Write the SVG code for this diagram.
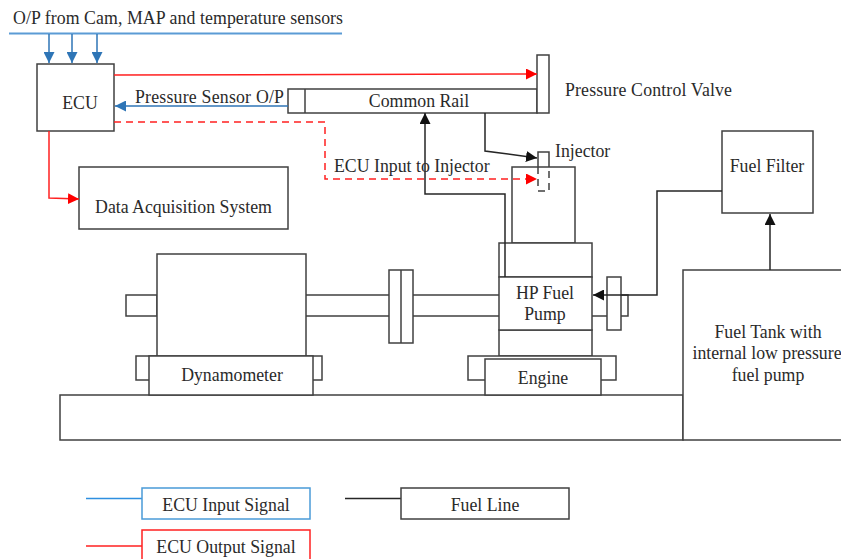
<svg xmlns="http://www.w3.org/2000/svg" width="841" height="559" viewBox="0 0 841 559">
<style>
text{font-family:"Liberation Serif","Times New Roman",serif;font-size:17.800px;fill:#2a2a2a}
.m{text-anchor:middle}
.b{fill:#fff;stroke:#404040;stroke-width:1.500}
.n{fill:none;stroke:#404040;stroke-width:1.500}
.fuel{fill:none;stroke:#262626;stroke-width:1.500}
.blue{fill:none;stroke:#2e75b6;stroke-width:1.500}
.red{fill:none;stroke:#ff2020;stroke-width:1.500}
.dash{stroke-dasharray:7 5}
</style>
<defs>
<marker id="ab" markerUnits="userSpaceOnUse" markerWidth="12" markerHeight="11" refX="11" refY="5.500" orient="auto"><path d="M0 0L11 5.500L0 11z" fill="#2e75b6"/></marker>
<marker id="ar" markerUnits="userSpaceOnUse" markerWidth="12" markerHeight="11" refX="11" refY="5.500" orient="auto"><path d="M0 0L11 5.500L0 11z" fill="#ff0000"/></marker>
<marker id="ak" markerUnits="userSpaceOnUse" markerWidth="12" markerHeight="11" refX="11" refY="5.500" orient="auto"><path d="M0 0L11 5.500L0 11z" fill="#111"/></marker>
</defs>
<g id="bed"><rect class="b" x="60" y="395" width="623" height="45"/></g>
<g id="dyno">
<rect class="b" x="126" y="295" width="31" height="21"/>
<rect class="b" x="136" y="356" width="186" height="24"/>
<rect class="b" x="157" y="254" width="149" height="102"/>
<rect class="b" x="149" y="356" width="164" height="39"/>
<text class="m" x="232" y="381">Dynamometer</text>
</g>
<g id="shaft">
<path class="n" d="M306 295H389M306 316H389M413 295H499M413 316H499"/>
<rect class="b" x="389" y="270" width="24" height="73"/>
<path class="n" d="M401 270V343"/>
</g>
<g id="engine">
<rect class="b" x="512" y="167" width="63" height="76"/>
<rect class="b" x="499" y="243" width="93" height="34"/>
<rect class="b" x="499" y="330" width="93" height="26"/>
<rect class="b" x="468" y="356" width="148" height="24"/>
<rect class="b" x="485" y="359" width="116" height="36"/>
<text class="m" x="543" y="384">Engine</text>
</g>
<g id="hp-pump">
<path class="n" d="M592 316H607M621 295H628V316H621"/>
<rect class="b" x="499" y="277" width="93" height="53"/>
<text class="m" x="545" y="299">HP Fuel</text>
<text class="m" x="545" y="320">Pump</text>
<rect class="b" x="607" y="277" width="14" height="53"/>
</g>
<g id="tank">
<rect class="b" x="683" y="270" width="159" height="170"/>
<text class="m" x="768" y="338">Fuel Tank with</text>
<text class="m" x="767" y="359">internal low pressure</text>
<text class="m" x="768" y="381">fuel pump</text>
</g>
<g id="filter">
<rect class="b" x="722" y="131" width="91" height="82"/>
<text class="m" x="767" y="172">Fuel Filter</text>
</g>
<g id="ecu">
<rect class="b" x="37" y="64" width="77" height="67"/>
<text class="m" x="80" y="109">ECU</text>
</g>
<g id="daq">
<rect class="b" x="79" y="167" width="209" height="62"/>
<text class="m" x="183.500" y="213">Data Acquisition System</text>
</g>
<g id="rail">
<rect class="b" x="288" y="89" width="249" height="24"/>
<path class="n" d="M305 89V113"/>
<text class="m" x="419" y="107">Common Rail</text>
</g>
<g id="valve">
<rect class="b" x="537" y="55" width="12" height="58"/>
<text x="565" y="96" textLength="167">Pressure Control Valve</text>
</g>
<g id="injector">
<path class="n" d="M538 167V152H549V167"/>
<path class="n" d="M538 167V191H549V167" stroke-dasharray="7 5"/>
<text x="555" y="157">Injector</text>
</g>
<g id="connectors">
<path class="blue" style="stroke:#5b9bd5;stroke-width:2" d="M9 33.500H342"/>
<path class="blue" marker-end="url(#ab)" d="M49 34V63"/>
<path class="blue" marker-end="url(#ab)" d="M72 34V63"/>
<path class="blue" marker-end="url(#ab)" d="M97 34V63"/>
<path class="blue" marker-end="url(#ab)" d="M288 106H115"/>
<path class="red" marker-end="url(#ar)" d="M114 75L537 74"/>
<path class="red" marker-end="url(#ar)" d="M49 131V198L79 199"/>
<path class="red dash" marker-end="url(#ar)" d="M114 122H325V179H537"/>
<path class="fuel" marker-end="url(#ak)" d="M485 113V151L537 158"/>
<path class="fuel" marker-end="url(#ak)" d="M505 277V194H425V113"/>
<path class="fuel" marker-end="url(#ak)" d="M722 191H657V295H593"/>
<path class="fuel" marker-end="url(#ak)" d="M770 270V214"/>
</g>
<g id="labels">
<text x="13" y="24" textLength="330">O/P from Cam, MAP and temperature sensors</text>
<text x="135" y="103" textLength="149">Pressure Sensor O/P</text>
<text x="334" y="172">ECU Input to Injector</text>
</g>
<g id="legend">
<path class="blue" style="stroke:#2e8fe0" d="M86 498.500H142"/>
<rect x="142" y="488" width="168" height="31" fill="#fff" stroke="#4a9bd8" stroke-width="1.500"/>
<text class="m" x="226" y="511">ECU Input Signal</text>
<path class="red" d="M86 546H142"/>
<rect x="142" y="530" width="168" height="40" fill="#fff" stroke="#ff2020" stroke-width="1.500"/>
<text class="m" x="226" y="553">ECU Output Signal</text>
<path class="fuel" d="M345 498.500H401"/>
<rect class="b" x="401" y="488" width="168" height="31"/>
<text class="m" x="485" y="511">Fuel Line</text>
</g>
</svg>
